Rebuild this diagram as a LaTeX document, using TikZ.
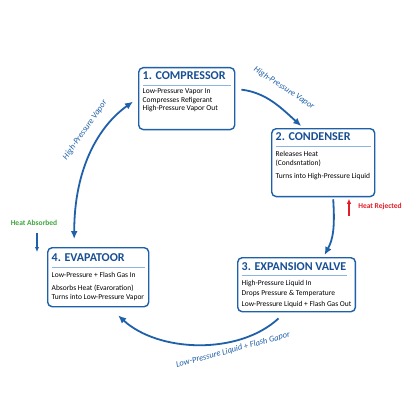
\documentclass[tikz,border=0pt]{standalone}
\usepackage{fontspec}
\setmainfont{Carlito}
\usetikzlibrary{arrows.meta}

\definecolor{cycleblue}{RGB}{31,96,170}
\definecolor{titleblue}{RGB}{24,78,148}
\definecolor{ruleblue}{RGB}{140,180,222}
\definecolor{heatgreen}{RGB}{62,165,62}
\definecolor{heatred}{RGB}{226,30,40}

\begin{document}
\begin{tikzpicture}[x=1pt,y=-1pt,>=Latex,
  stage/.style={draw=cycleblue,line width=1.4pt,rounded corners=4.5pt,fill=white,
    align=left,inner xsep=4pt,inner ysep=4pt,anchor=north west,
    font=\fontsize{7.5}{9}\selectfont},
  flow/.style={draw=cycleblue,line width=1.8pt,-{Latex[length=8pt,width=7pt]}},
  bothflow/.style={flow,{Latex[length=8pt,width=7pt]}-{Latex[length=8pt,width=7pt]}},
  flowlabel/.style={text=cycleblue,inner sep=1pt,
    font=\fontsize{8.5}{10}\selectfont\itshape},
  heat/.style={line width=1.3pt,-{Latex[length=5pt,width=4.5pt]}},
]
  \fill[white] (0,0) rectangle (409,409);
  \useasboundingbox (0,0) rectangle (409,409);

  % ---------- the four stages ----------
  \node[stage,minimum height=59pt] (comp) at (138,67)
    {{\fontsize{12}{13}\selectfont\bfseries\color{titleblue}1. COMPRESSOR}\\[-3pt]
     {\color{ruleblue}\rule{88pt}{0.8pt}}\\[-1pt]
     Low-Pressure Vapor In\\[-0.5pt]
     Compresses Refigerant\\[-0.5pt]
     High-Pressure Vapor Out\\[6pt]};

  \node[stage,minimum height=63pt] (cond) at (271,128)
    {{\fontsize{12}{13}\selectfont\bfseries\color{titleblue}2. CONDENSER}\\[-3pt]
     {\color{ruleblue}\rule{95pt}{0.8pt}}\\[1pt]
     Releases Heat\\
     (Condsntation)\\[4pt]
     Turns into High-Pressure Liquid\\[5pt]};

  \node[stage,minimum height=54pt] (exp) at (237,257)
    {{\fontsize{12}{13}\selectfont\bfseries\color{titleblue}3. EXPANSION VALVE}\\[-3pt]
     {\color{ruleblue}\rule{105pt}{0.8pt}}\\[0pt]
     High-Pressure Liquid In\\[1.5pt]
     Drops Pressure \& Temperature\\[1.5pt]
     Low-Pressure Liquid + Flash Gas Out};

  \node[stage,minimum height=59pt] (evap) at (47,247)
    {{\fontsize{12}{13}\selectfont\bfseries\color{titleblue}4. EVAPATOOR}\\[-3pt]
     {\color{ruleblue}\rule{93pt}{0.8pt}}\\[1pt]
     Low-Pressure + Flash Gas In\\[4pt]
     Absorbs Heat (Evaroration)\\
     Turns into Low-Pressure Vapor};

  % ---------- cycle arrows ----------
  \draw[flow]
    ([xshift=6pt,yshift=9pt]comp.east) .. controls +(25,3) and +(-20,-18)
    .. ([xshift=-22pt,yshift=2pt]cond.north);
  \draw[flow]
    ([xshift=10pt,yshift=-2pt]cond.south) .. controls +(2,30) and +(8,-15)
    .. ([xshift=28pt,yshift=2pt]exp.north);
  \draw[flow]
    ([xshift=-18pt,yshift=-6pt]exp.south) .. controls +(-40,37) and +(40,37)
    .. ([xshift=20pt,yshift=-8pt]evap.south);
  \draw[bothflow]
    ([xshift=-24pt,yshift=8pt]evap.north) .. controls +(0,-70) and +(-35,25)
    .. ([xshift=-5pt,yshift=-3pt]comp.west);

  % ---------- arrow labels ----------
  \node[flowlabel,rotate=-33] (toplabel) at (284,88) {High-Pressure Vapor};
  \node[flowlabel,rotate=55] (leftlabel) at (85,130) {High-Pressure Vapor};
  \node[flowlabel,rotate=15] (bottomlabel) at (233,350)
    {Low-Pressure Liquid + Flash Gapor};

  % ---------- heat exchange ----------
  \node[text=heatgreen,font=\fontsize{7.5}{9}\selectfont\bfseries] (habs) at (34,223)
    {Heat Absorbed};
  \coordinate (habstop) at (37,233);
  \coordinate (habsend) at (37,252);
  \draw[heat,cycleblue] (habstop) -- (habsend);

  \node[text=heatred,font=\fontsize{7.5}{9}\selectfont\bfseries] (hrej) at (380,207)
    {Heat Rejected};
  \coordinate (hrejtail) at (349,216);
  \draw[heat,heatred,shorten >=1.5pt] (hrejtail) -- (hrejtail |- cond.south);

\end{tikzpicture}
\end{document}
